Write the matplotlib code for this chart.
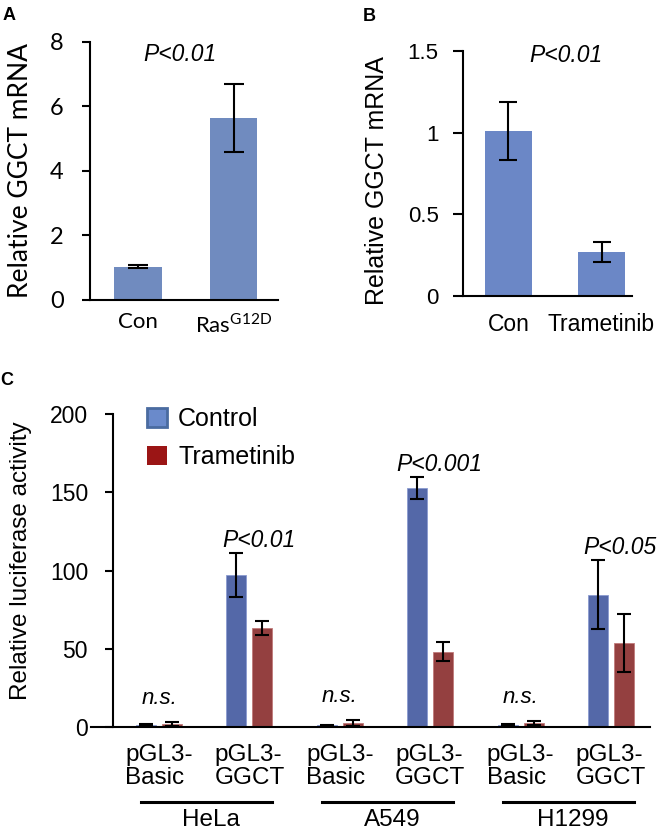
import matplotlib.pyplot as plt
from matplotlib.patches import Patch
import numpy as np

# panel A: GGCT mRNA, Con vs Ras G12D
a_labels = ['Con', 'Ras$^{\\rm G12D}$']
a_vals = [1.03, 5.65]
a_err = [0.05, 1.06]

# panel B: GGCT mRNA, Con vs Trametinib
b_labels = ['Con', 'Trametinib']
b_vals = [1.01, 0.27]
b_err = [0.18, 0.06]

# panel C: luciferase activity
c_cats = ['pGL3-\nBasic', 'pGL3-\nGGCT'] * 3
c_cells = ['HeLa', 'A549', 'H1299']
c_ctrl = [1.5, 97, 1.0, 153, 1.5, 84.5]
c_ctrl_err = [0.5, 14, 0.5, 7, 0.5, 22]
c_tram = [2.0, 63.5, 2.5, 48, 2.5, 53.5]
c_tram_err = [1.5, 4.5, 2.0, 6, 1.5, 18.5]
c_pvals = ['n.s.', 'P<0.01', 'n.s.', 'P<0.001', 'n.s.', 'P<0.05']

plt.rcParams['font.family'] = ['Liberation Sans', 'DejaVu Sans']
plt.rcParams['mathtext.fontset'] = 'custom'
plt.rcParams['mathtext.rm'] = 'Lato'

fig = plt.figure(figsize=(6.6, 8.3), dpi=100)


def style_axes(ax):
    for s in ['top', 'right']:
        ax.spines[s].set_visible(False)
    ax.spines['left'].set_linewidth(1.5)
    ax.spines['bottom'].set_linewidth(1.5)
    ax.tick_params(axis='y', length=6, width=1.5, direction='out')
    ax.tick_params(axis='x', length=0)


# ---- A ----
axA = fig.add_axes([0.1364, 0.6386, 0.2848, 0.3108])
style_axes(axA)
xa = np.arange(len(a_vals))
axA.bar(xa, a_vals, width=0.5, color='#708bbf')
axA.errorbar(xa, a_vals, yerr=a_err, fmt='none', ecolor='black', elinewidth=1.5, capsize=7, capthick=1.5)
axA.set_xlim(-0.503, 1.466)
axA.set_ylim(0, 8)
axA.set_yticks([0, 2, 4, 6, 8])
axA.set_yticklabels(['0', '2', '4', '6', '8'], fontsize=17, family='Lato')
axA.set_xticks(xa)
axA.set_xticklabels(a_labels, fontsize=16, family='Lato')
axA.tick_params(axis='x', pad=9)
axA.tick_params(axis='y', pad=13)
axA.set_ylabel('Relative GGCT mRNA', fontsize=19, family='Lato')
axA.yaxis.set_label_coords(-0.305, 0.5)
axA.text(0.44, 7.6, 'P<0.01', fontsize=16.5, style='italic', ha='center', va='center')

# ---- B ----
axB = fig.add_axes([0.7015, 0.6434, 0.2561, 0.2952])
style_axes(axB)
xb = np.arange(len(b_vals))
axB.bar(xb, b_vals, width=0.5, color='#6b87c6')
axB.errorbar(xb, b_vals, yerr=b_err, fmt='none', ecolor='black', elinewidth=1.5, capsize=6.5, capthick=1.5)
axB.set_xlim(-0.489, 1.328)
axB.set_ylim(0, 1.5)
axB.set_yticks([0, 0.5, 1, 1.5])
axB.set_yticklabels(['0', '0.5', '1', '1.5'], fontsize=16)
axB.set_xticks(xb)
axB.set_xticklabels(b_labels, fontsize=16.5)
axB.tick_params(axis='x', pad=12)
axB.tick_params(axis='y', length=7.5, pad=10)
axB.set_ylabel('Relative GGCT mRNA', fontsize=18)
axB.yaxis.set_label_coords(-0.44, 0.47)
axB.text(0.62, 1.47, 'P<0.01', fontsize=16.5, style='italic', ha='center', va='center')

# ---- C ----
axC = fig.add_axes([0.1379, 0.1241, 0.847, 0.3771])
style_axes(axC)
axC.spines['left'].set_position(('axes', 0.0394))
axC.tick_params(axis='y', length=6, width=1.5, pad=12)
axC.tick_params(axis='x', length=0, pad=12)
xc = np.arange(len(c_cats))
off = 0.144
w = 0.221
axC.bar(xc - off, c_ctrl, width=w, color='#5468a8', edgecolor='#8a9bd0', linewidth=0.6)
axC.bar(xc + off, c_tram, width=w, color='#944040', edgecolor='#c07a7a', linewidth=0.6)
axC.errorbar(xc - off, c_ctrl, yerr=c_ctrl_err, fmt='none', ecolor='black', elinewidth=1.5, capsize=5, capthick=1.5)
axC.errorbar(xc + off, c_tram, yerr=c_tram_err, fmt='none', ecolor='black', elinewidth=1.5, capsize=5, capthick=1.5)
axC.set_xlim(-0.752, 5.431)
axC.set_ylim(0, 200)
axC.set_yticks([0, 50, 100, 150, 200])
axC.set_yticklabels(['0', '50', '100', '150', '200'], fontsize=16.5)
axC.set_xticks(xc)
axC.set_xticklabels(c_cats, fontsize=17.5, multialignment='left', linespacing=1.05)
axC.set_ylabel('Relative luciferase activity', fontsize=17.5)
axC.yaxis.set_label_coords(-0.105, 0.53)

for i, p in enumerate(c_pvals):
    top = max(c_ctrl[i] + c_ctrl_err[i], c_tram[i] + c_tram_err[i])
    if p == 'n.s.':
        axC.text(i, top + 15, p, fontsize=16, style='italic', ha='center', va='center')
    else:
        axC.text(i + 0.1, top + 8, p, fontsize=16.5, style='italic', ha='center', va='center')

# cell line underlines and names
trans = axC.get_xaxis_transform()
for g, name in enumerate(c_cells):
    x0 = 2 * g - 0.2
    x1 = 2 * g + 1 + 0.25
    axC.plot([x0, x1], [-0.24, -0.24], color='black', lw=2.2, transform=trans, clip_on=False)
    axC.text((x0 + x1) / 2 + 0.05, -0.297, name, fontsize=17.5, ha='center', va='center', transform=trans)

handles = [Patch(facecolor='#6a8acb', edgecolor='#4a6ba0', linewidth=2, label='Control'),
           Patch(facecolor='#9b1515', edgecolor='none', label='Trametinib')]
axC.legend(handles=handles, loc='upper left', bbox_to_anchor=(0.1, 1.021), frameon=False,
           fontsize=18, handlelength=0.8, handleheight=0.8, handletextpad=0.45,
           labelspacing=0.55, borderpad=0, borderaxespad=0)

# panel letters
fig.text(0.004, 0.992, 'A', fontsize=13, fontweight='bold', va='top')
fig.text(0.55, 0.99, 'B', fontsize=13, fontweight='bold', va='top')
fig.text(0.0, 0.552, 'C', fontsize=13, fontweight='bold', va='top')

fig.savefig('out.png', dpi=100)
